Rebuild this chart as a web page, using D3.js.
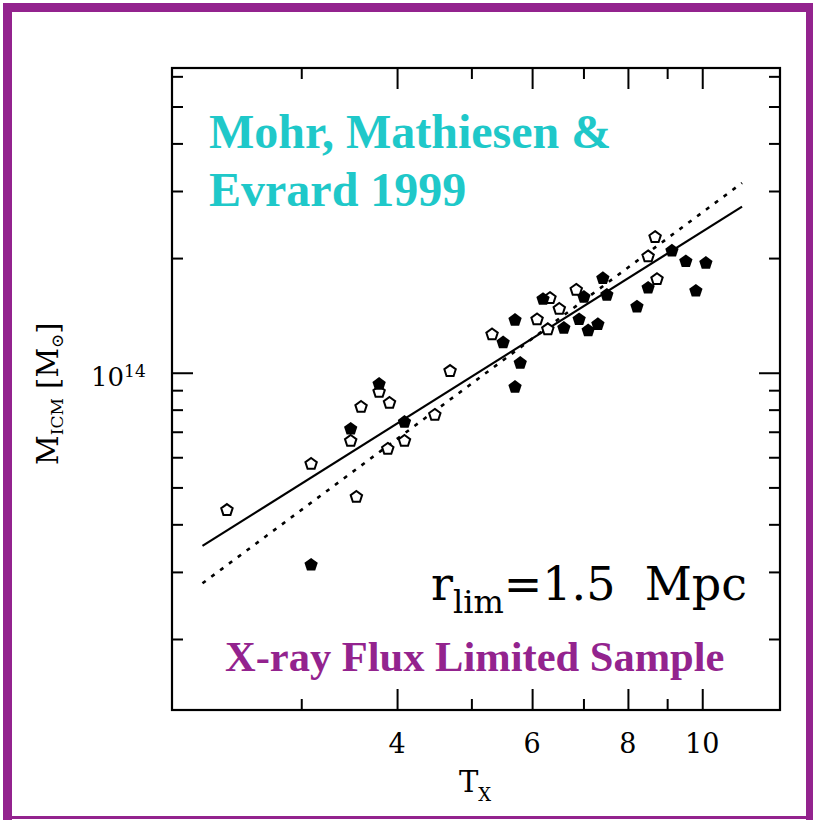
<!DOCTYPE html>
<html lang='en'>
  <head>
    <meta charset='utf-8'>
    <title>M_ICM - T_X</title>
    <script src='https://d3js.org/d3.v7.min.js'></script>
    <style>
      html, body { margin: 0; padding: 0; background: #fff; }
      svg { display: block; }
      .cm { font-family: 'DejaVu Serif', serif; fill: #000; }
      .bold { font-family: 'Liberation Serif', 'Times New Roman', serif; font-weight: bold; }
    </style>
  </head>
  <body>
    <div class='vis'></div>
    <script>
      // data: [T_X (keV), M_ICM (Msun)]
      const openPoints = [
        [2.40, 4.36e13], [3.09, 5.76e13], [3.54, 4.72e13], [3.48, 6.62e13], [3.59, 8.13e13],
        [3.79, 8.90e13], [3.91, 8.33e13], [3.89, 6.31e13], [4.09, 6.62e13], [4.48, 7.75e13],
        [4.69, 1.01e14], [5.32, 1.26e14], [6.09, 1.38e14], [6.33, 1.57e14], [6.29, 1.30e14],
        [6.51, 1.47e14], [6.85, 1.65e14], [8.73, 1.76e14], [8.50, 2.02e14], [8.68, 2.27e14]
      ];
      const filledPoints = [
        [3.09, 3.13e13], [3.48, 7.12e13], [3.79, 9.34e13], [4.09, 7.42e13], [5.50, 1.20e14],
        [5.70, 1.375e14], [5.79, 1.06e14], [5.70, 9.17e13], [6.20, 1.56e14], [6.60, 1.31e14],
        [6.91, 1.38e14], [7.01, 1.58e14], [7.10, 1.29e14], [7.31, 1.34e14], [7.42, 1.77e14],
        [7.51, 1.60e14], [8.22, 1.49e14], [8.50, 1.67e14], [9.13, 2.09e14], [9.52, 1.96e14],
        [10.11, 1.94e14], [9.81, 1.64e14]
      ];
      // fit lines (end points)
      const fitT = [2.23, 11.27];
      const solidFitM = [3.51e13, 2.73e14];
      const dottedFitM = [2.80e13, 3.15e14];

      // ticks
      const xMajor = [4, 6, 8, 10];
      const xMinor = [3, 5, 7, 9];
      const yMajor = [1e14];
      const yMinor = [2e13, 3e13, 4e13, 5e13, 6e13, 7e13, 8e13, 9e13, 2e14, 3e14, 4e14, 5e14, 6e14];

      const W = 813, H = 822;
      const box = {left: 172, right: 780, top: 68, bottom: 710};

      const svg = d3.select('.vis').append('svg')
        .attr('width', W)
        .attr('height', H);

      // purple frame
      const purple = '#93238e';
      svg.append('rect').attr('x', 3).attr('y', 3).attr('width', W - 3).attr('height', 9).attr('fill', purple);
      svg.append('rect').attr('x', 3).attr('y', 3).attr('width', 9).attr('height', 817).attr('fill', purple);
      svg.append('rect').attr('x', 806).attr('y', 3).attr('width', 7).attr('height', 817).attr('fill', purple);
      svg.append('rect').attr('x', 3).attr('y', 816).attr('width', W - 3).attr('height', 3).attr('fill', purple);

      const x = d3.scaleLog().domain([2.035, 12.63]).range([box.left, box.right]);
      const y = d3.scaleLog().domain([1.302e13, 6.31e14]).range([box.bottom, box.top]);

      // axes: ticks point inward on all four sides
      const addAxis = (axis, tx, ty) => {
        const g = svg.append('g')
          .attr('transform', 'translate(' + tx + ',' + ty + ')')
          .call(axis);
        g.select('.domain').remove();
        g.selectAll('line').attr('stroke', '#000').attr('stroke-width', 2);
        g.selectAll('text').remove();
      };
      addAxis(d3.axisBottom(x).tickValues(xMajor).tickSize(-21), 0, box.bottom);
      addAxis(d3.axisBottom(x).tickValues(xMinor).tickSize(-11), 0, box.bottom);
      addAxis(d3.axisTop(x).tickValues(xMajor).tickSize(-21), 0, box.top);
      addAxis(d3.axisTop(x).tickValues(xMinor).tickSize(-11), 0, box.top);
      addAxis(d3.axisLeft(y).tickValues(yMajor).tickSize(-21), box.left, 0);
      addAxis(d3.axisLeft(y).tickValues(yMinor).tickSize(-11), box.left, 0);
      addAxis(d3.axisRight(y).tickValues(yMajor).tickSize(-21), box.right, 0);
      addAxis(d3.axisRight(y).tickValues(yMinor).tickSize(-11), box.right, 0);

      svg.append('rect')
        .attr('x', box.left).attr('y', box.top)
        .attr('width', box.right - box.left).attr('height', box.bottom - box.top)
        .attr('fill', 'none').attr('stroke', '#000').attr('stroke-width', 2.2);

      // tick labels
      svg.selectAll('.xlab').data(xMajor).enter()
        .append('text')
          .attr('class', 'cm')
          .attr('x', (d) => x(d))
          .attr('y', 753)
          .attr('text-anchor', 'middle')
          .style('font-size', '27px')
          .text((d) => d);

      const ylab = svg.append('text')
        .attr('class', 'cm')
        .attr('x', 91)
        .attr('y', y(1e14) + 13)
        .style('font-size', '26px');
      ylab.append('tspan').text('10');
      ylab.append('tspan').attr('dy', -9).style('font-size', '17px').text('14');

      // axis titles
      const xt = svg.append('text')
        .attr('class', 'cm')
        .attr('x', 459)
        .attr('y', 792)
        .style('font-size', '29px');
      xt.append('tspan').text('T');
      xt.append('tspan').attr('dy', 9).style('font-size', '18px').text('X');

      const yt = svg.append('text')
        .attr('class', 'cm')
        .attr('transform', 'translate(58,465) rotate(-90)')
        .style('font-size', '29px');
      yt.append('tspan').text('M');
      yt.append('tspan').attr('dy', 5).style('font-size', '17px').text('ICM');
      yt.append('tspan').attr('dy', -5).text(' [M');
      yt.append('tspan').attr('dy', 5).style('font-size', '17px').text('\u2299');
      yt.append('tspan').attr('dy', -5).text(']');

      // fit lines
      const fitLine = d3.line()
        .x((d) => x(d[0]))
        .y((d) => y(d[1]));
      svg.append('path')
        .datum(fitT.map((t, i) => [t, solidFitM[i]]))
        .attr('d', fitLine)
        .attr('fill', 'none')
        .attr('stroke', '#000')
        .attr('stroke-width', 2.2);
      svg.append('path')
        .datum(fitT.map((t, i) => [t, dottedFitM[i]]))
        .attr('d', fitLine)
        .attr('fill', 'none')
        .attr('stroke', '#000')
        .attr('stroke-width', 2.6)
        .attr('stroke-dasharray', '4,7');

      // pentagon marker
      const pentagon = (r) => {
        const pts = d3.range(5).map((i) => {
          const a = -Math.PI / 2 + i * 2 * Math.PI / 5;
          return [r * Math.cos(a), r * Math.sin(a)];
        });
        return 'M' + pts.map((p) => p[0].toFixed(2) + ',' + p[1].toFixed(2)).join('L') + 'Z';
      };

      svg.selectAll('.open').data(openPoints).enter()
        .append('path')
          .attr('class', 'open')
          .attr('d', pentagon(6))
          .attr('transform', (d) => 'translate(' + x(d[0]) + ',' + y(d[1]) + ')')
          .attr('fill', '#fff')
          .attr('stroke', '#000')
          .attr('stroke-width', 2);

      svg.selectAll('.filled').data(filledPoints).enter()
        .append('path')
          .attr('class', 'filled')
          .attr('d', pentagon(7))
          .attr('transform', (d) => 'translate(' + x(d[0]) + ',' + y(d[1]) + ')')
          .attr('fill', '#000');

      // annotations
      const cyan = '#1fc8c9';
      svg.append('text').attr('class', 'bold')
        .attr('x', 209).attr('y', 148)
        .style('font-size', '48px').style('fill', cyan)
        .text('Mohr, Mathiesen &');
      svg.append('text').attr('class', 'bold')
        .attr('x', 209).attr('y', 206)
        .style('font-size', '48px').style('fill', cyan)
        .text('Evrard 1999');

      svg.append('text').attr('class', 'bold')
        .attr('x', 225).attr('y', 671)
        .style('font-size', '42.5px').style('fill', purple)
        .text('X-ray Flux Limited Sample');

      const rl = svg.append('text')
        .attr('class', 'cm')
        .attr('x', 431)
        .attr('y', 600)
        .style('font-size', '46px');
      rl.append('tspan').text('r');
      rl.append('tspan').attr('dy', 13).style('font-size', '32px').text('lim');
      rl.append('tspan').attr('dy', -13).text('=1.5');
      svg.append('text')
        .attr('class', 'cm')
        .attr('x', 747)
        .attr('y', 600)
        .attr('text-anchor', 'end')
        .style('font-size', '46px')
        .text('Mpc');
    </script>
  </body>
</html>
